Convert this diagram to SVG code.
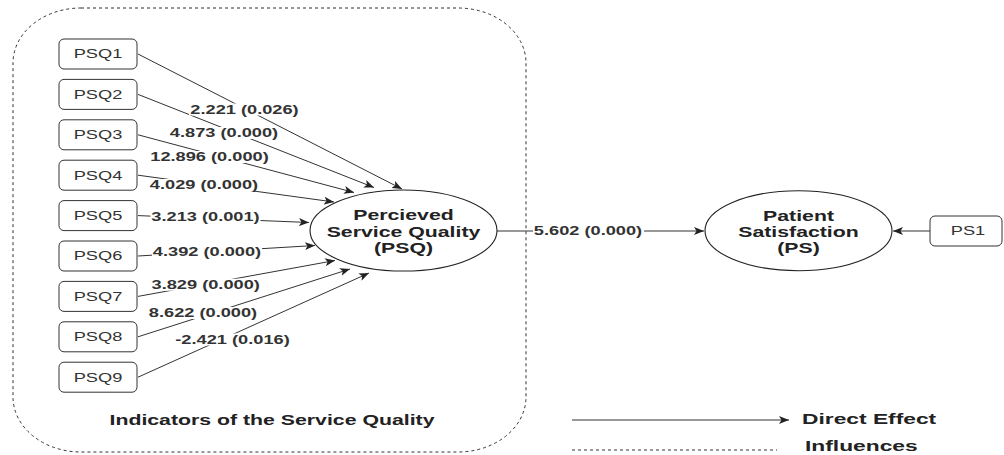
<svg xmlns="http://www.w3.org/2000/svg" width="1004" height="455" viewBox="0 0 1004 455">
<defs>
<marker id="arr" markerUnits="userSpaceOnUse" markerWidth="10" markerHeight="8" refX="10" refY="4" orient="auto">
<path d="M0,0 L10,4 L0,8 L2.5,4 z" fill="#222"/>
</marker>
<style>
.box{fill:#fff;stroke:#333;stroke-width:1}
.ell{fill:#fff;stroke:#222;stroke-width:1.1}
.edge{fill:none;stroke:#333;stroke-width:1;marker-end:url(#arr)}
.lbg{fill:#fff}
.t{font-family:"Liberation Sans",Arial,sans-serif;font-size:12px;fill:#333;text-anchor:middle}
.lb{font-family:"Liberation Sans",Arial,sans-serif;font-size:12px;font-weight:bold;fill:#333;text-anchor:middle}
.nb{font-family:"Liberation Sans",Arial,sans-serif;font-size:14px;font-weight:bold;fill:#222;text-anchor:middle}
.gb{font-family:"Liberation Sans",Arial,sans-serif;font-size:15px;font-weight:bold;fill:#222}
</style>
</defs>
<rect width="1004" height="455" fill="#fff"/>

<g id="container">
<rect x="13" y="8" width="513" height="444" rx="68" ry="55" fill="none" stroke="#333" stroke-width="1" stroke-dasharray="3,3"/>
<text class="nb" transform="translate(272,425) scale(1.52,1)">Indicators of the Service Quality</text>
</g>

<g id="connectors">
<line class="edge" x1="138" y1="54" x2="402" y2="189"/>
<line class="edge" x1="138" y1="94.4" x2="374" y2="187.5"/>
<line class="edge" x1="138" y1="134.8" x2="354" y2="192.5"/>
<line class="edge" x1="138" y1="175.2" x2="334" y2="202"/>
<line class="edge" x1="138" y1="215.6" x2="309" y2="222.5"/>
<line class="edge" x1="138" y1="256" x2="315" y2="245.5"/>
<line class="edge" x1="138" y1="296.4" x2="335" y2="260.5"/>
<line class="edge" x1="138" y1="336.8" x2="350" y2="269"/>
<line class="edge" x1="138" y1="377.2" x2="369" y2="273"/>
<line class="edge" x1="497" y1="231" x2="704" y2="231"/>
<line class="edge" x1="930" y1="231" x2="893" y2="231"/>

<rect class="lbg" x="189" y="103.5" width="111" height="12"/>
<text class="lb" transform="translate(244.5,113.8) scale(1.52,1)">2.221 (0.026)</text>
<rect class="lbg" x="169" y="127" width="110" height="12"/>
<text class="lb" transform="translate(224,137.3) scale(1.52,1)">4.873 (0.000)</text>
<rect class="lbg" x="149" y="151" width="121" height="12"/>
<text class="lb" transform="translate(209.5,161.3) scale(1.52,1)">12.896 (0.000)</text>
<rect class="lbg" x="149" y="179" width="110" height="12"/>
<text class="lb" transform="translate(204,189.3) scale(1.52,1)">4.029 (0.000)</text>
<rect class="lbg" x="150.5" y="210.5" width="110" height="12"/>
<text class="lb" transform="translate(205.5,220.8) scale(1.52,1)">3.213 (0.001)</text>
<rect class="lbg" x="152" y="246" width="110" height="12"/>
<text class="lb" transform="translate(207,256.3) scale(1.52,1)">4.392 (0.000)</text>
<rect class="lbg" x="150.5" y="278.7" width="110" height="12"/>
<text class="lb" transform="translate(205.7,289) scale(1.52,1)">3.829 (0.000)</text>
<rect class="lbg" x="148" y="307" width="110" height="12"/>
<text class="lb" transform="translate(203,317.3) scale(1.52,1)">8.622 (0.000)</text>
<rect class="lbg" x="175" y="333.5" width="115" height="12"/>
<text class="lb" transform="translate(232.5,343.8) scale(1.52,1)">-2.421 (0.016)</text>
<rect class="lbg" x="533" y="225" width="111" height="12"/>
<text class="lb" transform="translate(588,235.3) scale(1.52,1)">5.602 (0.000)</text>
</g>

<g id="PSQ1"><rect class="box" x="59" y="39" width="78" height="30" rx="5"/><text class="t" transform="translate(98,58.3) scale(1.52,1)">PSQ1</text></g>
<g id="PSQ2"><rect class="box" x="59" y="79.4" width="78" height="30" rx="5"/><text class="t" transform="translate(98,98.7) scale(1.52,1)">PSQ2</text></g>
<g id="PSQ3"><rect class="box" x="59" y="119.8" width="78" height="30" rx="5"/><text class="t" transform="translate(98,139.1) scale(1.52,1)">PSQ3</text></g>
<g id="PSQ4"><rect class="box" x="59" y="160.2" width="78" height="30" rx="5"/><text class="t" transform="translate(98,179.5) scale(1.52,1)">PSQ4</text></g>
<g id="PSQ5"><rect class="box" x="59" y="200.6" width="78" height="30" rx="5"/><text class="t" transform="translate(98,219.9) scale(1.52,1)">PSQ5</text></g>
<g id="PSQ6"><rect class="box" x="59" y="241" width="78" height="30" rx="5"/><text class="t" transform="translate(98,260.3) scale(1.52,1)">PSQ6</text></g>
<g id="PSQ7"><rect class="box" x="59" y="281.4" width="78" height="30" rx="5"/><text class="t" transform="translate(98,300.7) scale(1.52,1)">PSQ7</text></g>
<g id="PSQ8"><rect class="box" x="59" y="321.8" width="78" height="30" rx="5"/><text class="t" transform="translate(98,341.1) scale(1.52,1)">PSQ8</text></g>
<g id="PSQ9"><rect class="box" x="59" y="362.2" width="78" height="30" rx="5"/><text class="t" transform="translate(98,381.5) scale(1.52,1)">PSQ9</text></g>

<g id="PSQ">
<ellipse class="ell" cx="403.5" cy="230.5" rx="93.5" ry="40.5"/>
<text class="nb" transform="translate(403.5,220) scale(1.52,1)">Percieved</text>
<text class="nb" transform="translate(403.5,236.5) scale(1.52,1)">Service Quality</text>
<text class="nb" transform="translate(403.5,252.5) scale(1.52,1)">(PSQ)</text>
</g>

<g id="PS">
<ellipse class="ell" cx="798.5" cy="230.7" rx="93.5" ry="40"/>
<text class="nb" transform="translate(798.5,220.5) scale(1.52,1)">Patient</text>
<text class="nb" transform="translate(798.5,236.5) scale(1.52,1)">Satisfaction</text>
<text class="nb" transform="translate(798.5,252.5) scale(1.52,1)">(PS)</text>
</g>

<g id="PS1"><rect class="box" x="930" y="216" width="72" height="30" rx="5"/><text class="t" transform="translate(968,235.3) scale(1.52,1)">PS1</text></g>

<g id="legend">
<line x1="572" y1="420" x2="789" y2="420" stroke="#333" stroke-width="1" marker-end="url(#arr)"/>
<line x1="572" y1="450" x2="777" y2="450" stroke="#333" stroke-width="1" stroke-dasharray="3,3"/>
<text class="gb" transform="translate(802,424) scale(1.52,1)">Direct Effect</text>
<text class="gb" transform="translate(805,451) scale(1.52,1)">Influences</text>
</g>
</svg>
